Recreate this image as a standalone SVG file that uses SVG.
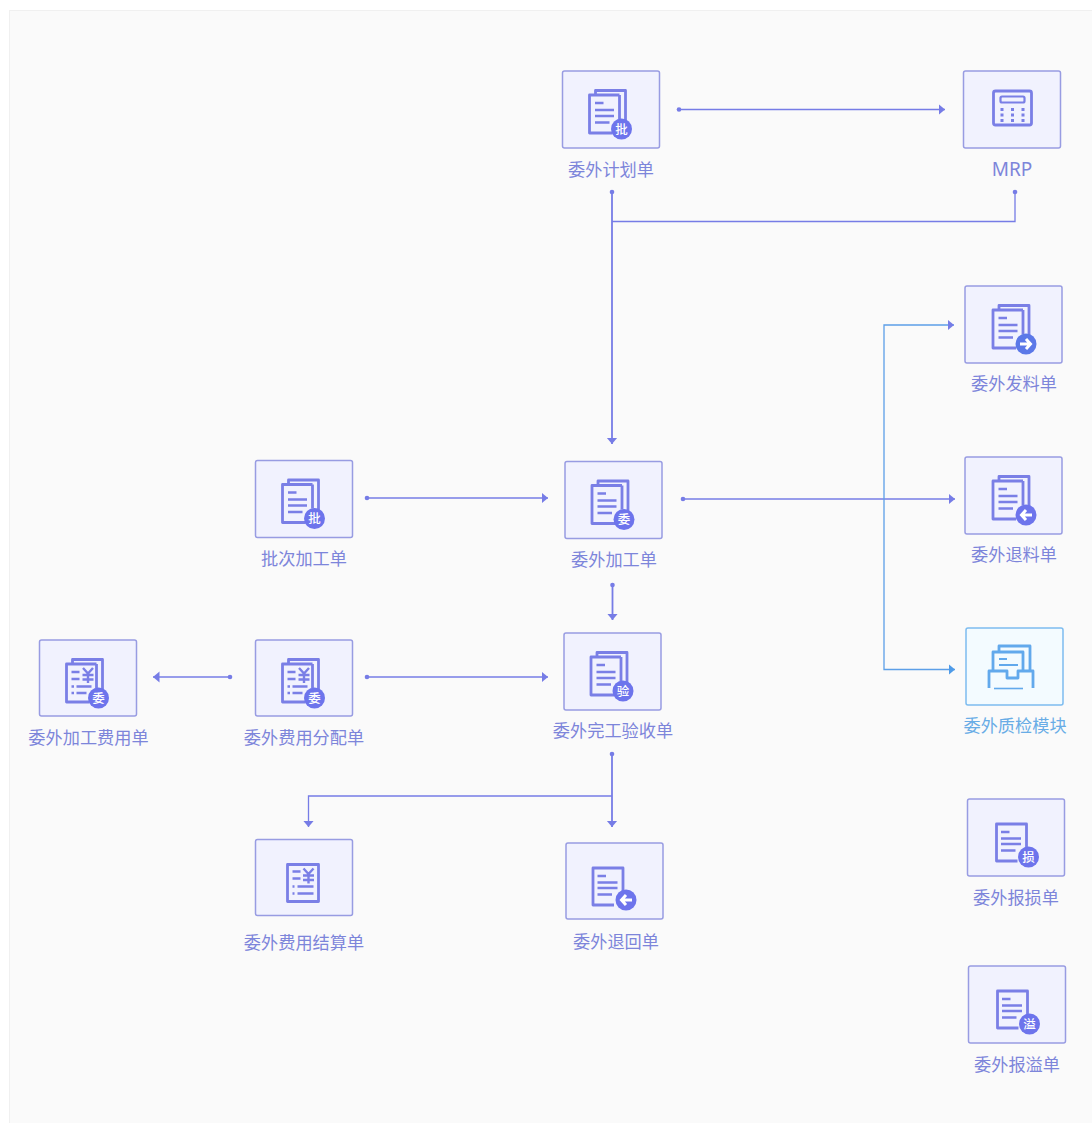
<svg xmlns="http://www.w3.org/2000/svg" width="1092" height="1123" viewBox="0 0 1092 1123">
<style>
.box{fill:#f1f2fe;stroke:#989ce2;stroke-width:1.5}
.lbl{font-family:"Noto Sans CJK SC","Noto Sans",sans-serif;font-size:17.2px;fill:#7d85da;text-anchor:middle}
.mrp{font-family:"Noto Sans",sans-serif;font-size:19px}
.bt{font-family:"Noto Sans CJK SC",sans-serif;font-size:12.500px;fill:#fff;text-anchor:middle;font-weight:500}
.ic{fill:none;stroke:#7a7fe6;stroke-width:2.800;stroke-linejoin:round}
.ln{fill:none;stroke:#7a7fe6;stroke-width:2.400}
.bd{fill:#6d74ec}
.ar{fill:none;stroke:#fff;stroke-width:3}
.q .box{fill:#f3fbff;stroke:#7dbcf0}
.q .lbl{fill:#68ace6}
.q .ic{stroke:#62a9ec}
.q .ln{stroke:#62a9ec}
.con{fill:none;stroke:#767ce6;stroke-width:1.3}
.blue{fill:none;stroke:#5c9fe8;stroke-width:1.3}
.thick{stroke-width:1.800}
.dot{fill:#767ce6}
</style>
<defs>
<marker id="a" markerUnits="userSpaceOnUse" markerWidth="8" markerHeight="12" refX="6.500" refY="6" orient="auto"><path d="M0 .5L6.500 6L0 11.500Z" fill="#767ce6"/></marker>
<marker id="b" markerUnits="userSpaceOnUse" markerWidth="8" markerHeight="12" refX="6.500" refY="6" orient="auto"><path d="M0 .5L6.500 6L0 11.500Z" fill="#4f9be8"/></marker>
<g id="stack">
<path class="ic" d="M33 24V19.500H63V52M57 24H27V62H50M57 24V48"/>
<path class="ln" d="M32.500 32H41M32.500 39H51.500M32.500 45H51.500M32.500 51.500H47"/>
</g>
<g id="doc">
<path class="ic" d="M59 49V25H29V62H50"/>
<path class="ln" d="M33.500 33H42M33.500 39.500H53.500M33.500 45H53.500M33.500 51.500H48"/>
</g>
<g id="bills">
<path class="ic" d="M33 24V19.500H63V52M57 24H27V62H50M57 24V48"/>
<path class="ln" d="M32 32H40M32 39H40M43.500 28L48.500 33.500L53.500 28M48.500 33.500V43M43 35H54M43 39.500H54M32 46.500H34.500M37 46.500H52M32 53H34.500M37 53H47"/>
</g>
</defs>
<rect width="1092" height="1123" fill="#fff"/>
<rect x="9.500" y="10.500" width="1083" height="1113" fill="#fafafa" stroke="#f0f0f0"/>
<g id="connectors">
<path class="con" marker-end="url(#a)" d="M679 109.500H945"/>
<path class="con thick" marker-end="url(#a)" d="M612 192V444"/>
<path class="con" d="M1015 192V221.500H612"/>
<path class="con" marker-end="url(#a)" d="M683 499H955"/>
<path class="blue" marker-end="url(#a)" d="M884 499V325H954"/>
<path class="blue" marker-end="url(#b)" d="M884 499V669.500H955"/>
<path class="con" marker-end="url(#a)" d="M367 498H548"/>
<path class="con thick" marker-end="url(#a)" d="M612.500 585V620"/>
<path class="con" marker-end="url(#a)" d="M230 677H153"/>
<path class="con" marker-end="url(#a)" d="M367 677H548"/>
<path class="con thick" marker-end="url(#a)" d="M612 754V827"/>
<path class="con" marker-end="url(#a)" d="M612 796H308.500V827"/>
<g class="dot"><circle cx="679" cy="109.500" r="2.300"/><circle cx="612" cy="192" r="2.300"/><circle cx="1015" cy="192" r="2.300"/><circle cx="683" cy="499" r="2.300"/><circle cx="367" cy="498" r="2.300"/><circle cx="612.500" cy="585" r="2.300"/><circle cx="230" cy="677" r="2.300"/><circle cx="367" cy="677" r="2.300"/><circle cx="612" cy="754" r="2.300"/></g>
</g>
<g id="n1" transform="translate(562.500 71)"><rect class="box" width="97" height="77" rx="2"/><use href="#stack"/><circle class="bd" cx="59" cy="58" r="10.500"/><text class="bt" x="59" y="62.500">批</text><text class="lbl" x="48.500" y="105">委外计划单</text></g>
<g id="n2" transform="translate(963.500 71)"><rect class="box" width="97" height="77" rx="2"/><rect class="ic" x="30" y="20" width="38" height="34" rx="2"/><rect class="ic" x="37" y="25.500" width="24" height="6" rx="1.500" style="stroke-width:2.200"/><path d="M37 37h3v3h-3zM47.500 37h3v3h-3zM58 37h3v3h-3zM37 42.500h3v3h-3zM47.500 42.500h3v3h-3zM58 42.500h3v3h-3zM37 48h3v3h-3zM47.500 48h3v3h-3zM58 48h3v3h-3z" fill="#7a7fe6"/><text class="lbl mrp" x="48.500" y="105">MRP</text></g>
<g id="n3" transform="translate(965 286)"><rect class="box" width="97" height="77" rx="2"/><use href="#stack" x="1"/><circle class="bd" cx="61" cy="58" r="10.500" style="fill:#5b78e8"/><path class="ar" d="M55 58H65M61 53L65.500 58L61 63"/><text class="lbl" x="49" y="104">委外发料单</text></g>
<g id="n4" transform="translate(965 457)"><rect class="box" width="97" height="77" rx="2"/><use href="#stack" x="1"/><circle class="bd" cx="61" cy="58" r="10.500"/><path class="ar" d="M67 58H57M61 53L56.500 58L61 63"/><text class="lbl" x="49" y="104">委外退料单</text></g>
<g id="n5" class="q" transform="translate(966 628)"><rect class="box" width="97" height="77" rx="2"/><path class="ic" d="M27 43V24H57V43M33 24V18H64V43M23 60V43H41V50H52V43H67V60"/><path class="ln" style="stroke-width:1.600" d="M28 60.500H57"/><path class="ln" style="stroke-width:2" d="M33 31H41M33 37H52"/><text class="lbl" x="49" y="104">委外质检模块</text></g>
<g id="n6" transform="translate(967.500 799)"><rect class="box" width="97" height="77" rx="2"/><use href="#doc"/><circle class="bd" cx="61" cy="58" r="10.500"/><text class="bt" x="61" y="62.500">损</text><text class="lbl" x="48.500" y="105">委外报损单</text></g>
<g id="n7" transform="translate(968.500 966)"><rect class="box" width="97" height="77" rx="2"/><use href="#doc"/><circle class="bd" cx="61" cy="58" r="10.500"/><text class="bt" x="61" y="62.500">溢</text><text class="lbl" x="48.500" y="105">委外报溢单</text></g>
<g id="n8" transform="translate(565 461.500)"><rect class="box" width="97" height="77" rx="2"/><use href="#stack"/><circle class="bd" cx="59" cy="58" r="10.500"/><text class="bt" x="59" y="62.500">委</text><text class="lbl" x="49" y="104">委外加工单</text></g>
<g id="n9" transform="translate(255.500 460.500)"><rect class="box" width="97" height="77" rx="2"/><use href="#stack"/><circle class="bd" cx="59" cy="58" r="10.500"/><text class="bt" x="59" y="62.500">批</text><text class="lbl" x="48.500" y="104">批次加工单</text></g>
<g id="n10" transform="translate(564 633)"><rect class="box" width="97" height="77" rx="2"/><use href="#stack"/><circle class="bd" cx="59" cy="58" r="10.500"/><text class="bt" x="59" y="62.500">验</text><text class="lbl" x="49" y="104">委外完工验收单</text></g>
<g id="n11" transform="translate(255.500 640)"><rect class="box" width="97" height="76" rx="2"/><use href="#bills"/><circle class="bd" cx="59" cy="58" r="10.500"/><text class="bt" x="59" y="62.500">委</text><text class="lbl" x="48.500" y="104">委外费用分配单</text></g>
<g id="n12" transform="translate(39.500 640)"><rect class="box" width="97" height="76" rx="2"/><use href="#bills"/><circle class="bd" cx="59" cy="58" r="10.500"/><text class="bt" x="59" y="62.500">委</text><text class="lbl" x="49" y="104">委外加工费用单</text></g>
<g id="n13" transform="translate(255.500 839.500)"><rect class="box" width="97" height="76" rx="2"/><path class="ic" d="M32 25H63V62H32Z"/><path class="ln" d="M37 32H45M37 39H45M48 29L53 34.500L58 29M53 34.500V44M47.500 36H58.500M47.500 40.500H58.500M37 47H39M42 47H58M37 54H39M42 54H58"/><text class="lbl" x="48.500" y="109">委外费用结算单</text></g>
<g id="n14" transform="translate(566 843)"><rect class="box" width="97" height="76" rx="2"/><use href="#doc" x="-2"/><circle class="bd" cx="60" cy="57" r="10.500"/><path class="ar" d="M66 57H56M60 52L55.500 57L60 62"/><text class="lbl" x="50" y="105">委外退回单</text></g>
</svg>
